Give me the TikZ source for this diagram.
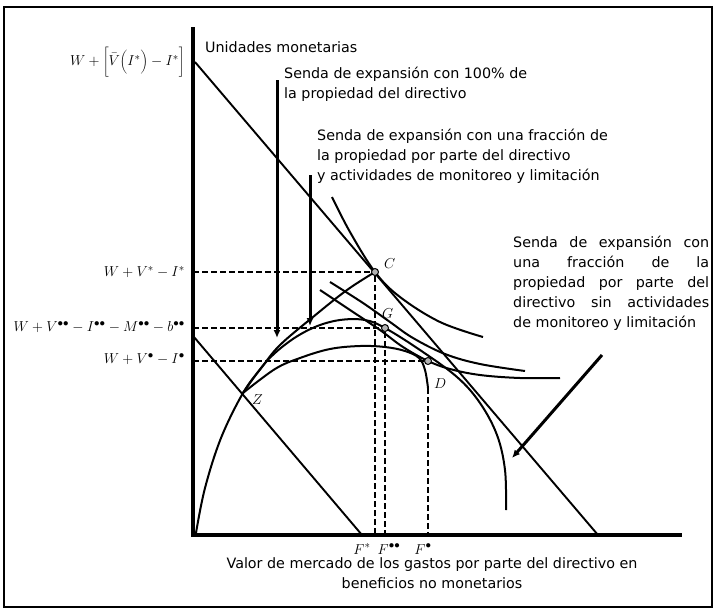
\documentclass[tikz,border=0pt]{standalone}
\usepackage[no-math]{fontspec}
\newfontfamily\lblfont{DejaVu Sans}
\usetikzlibrary{arrows.meta, positioning}

\begin{document}
\begin{tikzpicture}[x=1pt, y=-1pt,
    every node/.style={inner sep=0pt},
    lbl/.style={font=\lblfont\fontsize{14.3}{20}\selectfont, align=left},
    mlbl/.style={font=\fontsize{15}{18}\selectfont, anchor=east},
    ptname/.style={font=\fontsize{15}{18}\selectfont},
    axis/.style={line width=3.4pt},
    budget/.style={line width=1.9pt},
    curve/.style={line width=2pt},
    guide/.style={line width=2.1pt, dash pattern=on 6pt off 3pt},
    arrow/.style={-{Latex[length=8pt, width=7pt]}, line width=3pt},
    ptmark/.style={circle, draw, line width=1pt, fill=gray!60, minimum size=7pt, inner sep=0pt}
]
\useasboundingbox (0,0) rectangle (715,611);
\draw[line width=2.2pt] (4,7) rectangle (712,607);

% axes
\coordinate (O) at (193,535);
\coordinate (ytop) at (193,27);
\coordinate (xend) at (682,535);
\draw[axis] (ytop) -- (O) -- (xend);
\node[lbl, anchor=west] (units) at (205,47) {Unidades monetarias};

% budget lines
\coordinate (b1) at (195,62);
\coordinate (b1e) at (598,535);
\coordinate (b2) at (194,337);
\coordinate (b2e) at (362,535);
\draw[budget] (b1) -- (b1e);
\draw[budget] (b2) -- (b2e);

% equilibrium points
\coordinate (pC) at (375,272);
\coordinate (pG) at (385,328);
\coordinate (pD) at (428,361);
\coordinate (pZ) at (243,393);
\coordinate (Dlow) at (428,388);

% expansion paths
\draw[curve] plot[smooth, tension=0.6] coordinates {(196,533) (205,488) (221,438) (pZ) (262,367) (280,345) (313,317) (347,290) (pC)};
\draw[curve] plot[smooth, tension=0.6] coordinates {(pZ) (266,362) (290,341) (315,327) (340,320) (365,320) (pG) (420,350) (457,377) (480,403) (497,435) (505,470) (506,510)};
\draw[curve] plot[smooth, tension=0.6] coordinates {(pZ) (275,369) (300,358) (330,349) (360,346) (385,347) (405,351) (419,358) (425,370) (Dlow)};

% indifference curves
\draw[curve] plot[smooth, tension=0.6] coordinates {(332,197) (350,232) (pC) (400,297) (440,322) (483,337)};
\draw[curve] plot[smooth, tension=0.6] coordinates {(330,282) (363,303) (390,322) (413,338) (445,354) (480,364) (525,371)};
\draw[curve] plot[smooth, tension=0.6] coordinates {(320,290) (350,310) (380,330) (403,347) (pD) (450,369) (480,375) (520,378) (560,378)};

% points
\node[ptmark] (C) at (pC) {};
\node[ptmark] (G) at (pG) {};
\node[ptmark] (D) at (pD) {};
\node[ptname, anchor=west] (lC) at (384,264) {$C$};
\node[ptname, anchor=west] (lG) at (382,314) {$G$};
\node[ptname, anchor=west] (lD) at (434,384) {$D$};
\node[ptname, anchor=west] (lZ) at (252,400) {$Z$};

% guides
\draw[guide] (O |- pC) -- (C);
\draw[guide] (O |- pG) -- (G);
\draw[guide] (O |- pD) -- (D);
\draw[guide] (C) -- (pC |- O);
\draw[guide] (G) -- (pG |- O);
\draw[guide] (Dlow) -- (Dlow |- O);

% value labels
\node[mlbl] (vtop) at (185,62) {$W+\Biggl[\bar{V}\biggl(I^{*}\biggr)-I^{*}\Biggr]$};
\node[mlbl] (vC) at (185,272) {$W+V^{*}-I^{*}$};
\node[mlbl] (vG) at (185,327) {$W+V^{\bullet\bullet}-I^{\bullet\bullet}-M^{\bullet\bullet}-b^{\bullet\bullet}$};
\node[mlbl] (vD) at (185,359) {$W+V^{\bullet}-I^{\bullet}$};
\node[ptname, anchor=base] (fC) at (362,554) {$F^{*}$};
\node[ptname, anchor=base] (fG) at (389,554) {$F^{\bullet\bullet}$};
\node[ptname, anchor=base] (fD) at (423,554) {$F^{\bullet}$};
\node[lbl, align=center, anchor=north] (xcap) at (432,557) {Valor de mercado de los gastos por parte del directivo en\\beneficios no monetarios};

% annotations
\coordinate (a1s) at (277,80);
\coordinate (a1e) at (277,338);
\coordinate (a2s) at (310,175);
\coordinate (a2e) at (310,326);
\coordinate (a3s) at (602,355);
\coordinate (a3e) at (512,458);
\draw[arrow] (a1s) -- (a1e);
\draw[arrow] (a2s) -- (a2e);
\draw[arrow] (a3s) -- (a3e);
\node[lbl, anchor=north west] (n100) at (284,67) {Senda de expansión con 100\% de\\la propiedad del directivo};
\node[lbl, anchor=north west] (nmon) at (317,129) {Senda de expansión con una fracción de\\la propiedad por parte del directivo\\y actividades de monitoreo y limitación};
\node[lbl, anchor=north west] (nfrac) at (513,236) {\makebox[196pt][s]{Senda de expansión con}\\\makebox[196pt][s]{una fracción de la}\\\makebox[196pt][s]{propiedad por parte del}\\\makebox[196pt][s]{directivo sin actividades}\\de monitoreo y limitación};
\end{tikzpicture}
\end{document}
